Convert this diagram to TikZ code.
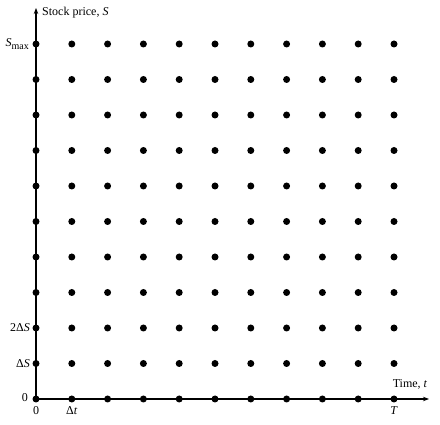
\documentclass[tikz,border=0pt]{standalone}
\usepackage{fontspec}
\setmainfont{Liberation Serif}
\usetikzlibrary{arrows.meta}
\begin{document}
\begin{tikzpicture}[x=1pt,y=-1pt,
  gdot/.style={circle,fill=black,inner sep=0pt,minimum size=7pt},
  axis/.style={line width=1.2pt,-{Stealth[length=6pt,width=4.5pt]}},
  lbl/.style={font=\fontsize{12}{14}\selectfont,inner sep=1pt}]
\useasboundingbox (0,0) rectangle (440,425);
\def\ox{36}\def\oy{399}\def\dx{35.8}\def\dy{35.5}
\coordinate (o) at (\ox,\oy);
\coordinate (xend) at (429,\oy);
\coordinate (yend) at (\ox,8);
\draw[axis] (o) -- (xend);
\draw[axis] (o) -- (yend);
\foreach \i in {0,...,10}{
  \foreach \j in {0,...,10}{
    \node[gdot] (d-\i-\j) at ({\ox+\i*\dx},{\oy-\j*\dy}) {};
  }
}
\node[lbl,anchor=west] (ylab) at (41,13) {Stock price, \textit{S}};
\node[lbl,anchor=south] (xlab) at (410,391) {Time, \textit{t}};
\node[lbl,anchor=east] (smax) at (30,{\oy-10*\dy}) {\textit{S}\raisebox{-0.45ex}{\fontsize{10}{11}\selectfont max}};
\node[lbl,anchor=east] (s2) at (31,{\oy-2*\dy}) {2Δ\textit{S}};
\node[lbl,anchor=east] (s1) at (31,{\oy-\dy}) {Δ\textit{S}};
\node[lbl,anchor=east] (s0) at (29,{\oy-1}) {0};
\node[lbl,anchor=north] (t0) at (\ox,405) {0};
\node[lbl,anchor=north] (t1) at ({\ox+\dx},405) {Δ\textit{t}};
\node[lbl,anchor=north] (tT) at ({\ox+10*\dx},405) {\textit{T}};
\end{tikzpicture}
\end{document}
